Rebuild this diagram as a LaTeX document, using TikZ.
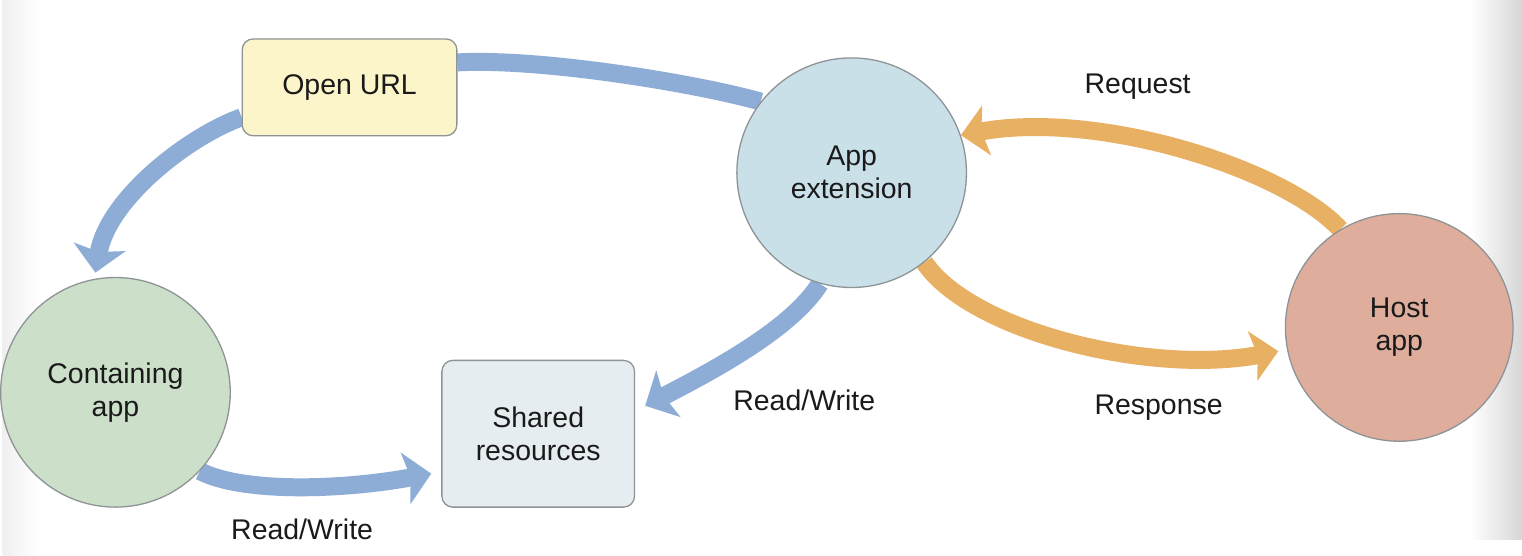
\documentclass[tikz,border=0pt]{standalone}
\usepackage{fontspec}
\setmainfont{Liberation Sans}
\usetikzlibrary{arrows.meta}
\pgfdeclarelayer{background}
\pgfdeclarelayer{backdrop}
\pgfsetlayers{backdrop,background,main}
\definecolor{urlfill}{HTML}{FCF5C9}
\definecolor{extfill}{HTML}{C9E0E9}
\definecolor{hostfill}{HTML}{DFAD9C}
\definecolor{contfill}{HTML}{CCE0C9}
\definecolor{sharedfill}{HTML}{E6EDF1}
\definecolor{bordergray}{HTML}{8E9396}
\definecolor{bluearrow}{HTML}{8EADD6}
\definecolor{orangearrow}{HTML}{E8B062}
\definecolor{txt}{HTML}{1A1A1A}
\begin{document}
\begin{tikzpicture}[x=1pt,y=-1pt,
  font=\fontsize{28.5}{33}\selectfont, text=txt,
  circnode/.style={circle, draw=bordergray, line width=1.3pt, minimum size=230pt, inner sep=0pt, align=center},
  boxnode/.style={rectangle, rounded corners=11pt, draw=bordergray, line width=1.3pt, align=center, inner sep=0pt},
  lbl/.style={inner sep=0pt, align=center},
  bluelink/.style={draw=bluearrow, line width=18pt},
  orangelink/.style={draw=orangearrow, line width=18pt},
  bluetip/.style={bluelink, -{Stealth[length=26pt,width=52pt,inset=5pt]}},
  orangetip/.style={orangelink, -{Stealth[length=26pt,width=50pt,inset=5pt]}}
]
\begin{pgfonlayer}{backdrop}
\useasboundingbox (0,0) rectangle (1522,556);
\fill[white] (0,0) rectangle (1522,556);
\shade[left color=white, right color=black!16] (1470,0) rectangle (1522,540);
\shade[left color=black!6, right color=white] (0,0) rectangle (36,556);
\end{pgfonlayer}

\node[boxnode, fill=urlfill, minimum width=215pt, minimum height=97pt] (url) at (347.5,87.5) {Open URL};
\node[circnode, fill=extfill] (ext) at (850.5,173) {App\\extension};
\node[circnode, fill=hostfill, minimum size=228pt] (host) at (1399,328) {Host\\app};
\node[circnode, fill=contfill] (cont) at (113,393) {Containing\\app};
\node[boxnode, fill=sharedfill, minimum width=193pt, minimum height=147pt] (shared) at (536.5,434.5) {Shared\\resources};

\node[lbl] (lreq) at (1137,87) {Request};
\node[lbl] (lresp) at (1158,408) {Response};
\node[lbl] (lrw1) at (803,401) {Read/Write};
\node[lbl] (lrw2) at (300,530) {Read/Write};

\begin{pgfonlayer}{background}
\path[bluelink] (ext.142) .. controls (697,84) and (540,58) .. ([yshift=25pt]url.east);
\path[bluetip] ([yshift=-30pt]url.west) .. controls (185,137) and (105,200) .. ([yshift=6pt]cont.100);
\path[bluetip] (ext.254) .. controls (790,330) and (710,372) .. ([xshift=10pt,yshift=28pt]shared.east);
\path[bluetip] (cont.317) .. controls (240,494) and (340,491) .. ([xshift=-10pt,yshift=-40pt]shared.west);
\path[orangetip] (host.121) .. controls (1285,170) and (1100,110) .. (ext.19);
\path[orangetip] (ext.309) .. controls (970,332) and (1150,376) .. ([xshift=-9pt]host.192);
\end{pgfonlayer}
\end{tikzpicture}
\end{document}
